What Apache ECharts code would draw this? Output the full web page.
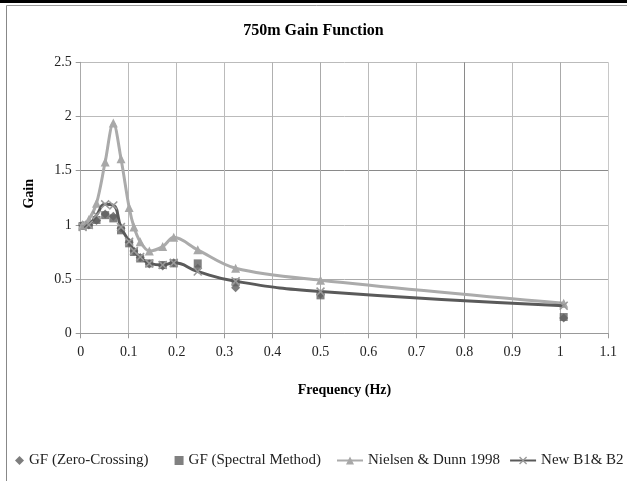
<!DOCTYPE html>
<html>
<head>
<meta charset="utf-8">
<script src="https://cdn.jsdelivr.net/npm/echarts@6/dist/echarts.min.js"></script>
<style>
html,body{margin:0;padding:0;background:#fff;}
#c{width:627px;height:481px;}
</style>
</head>
<body>
<div id="c"></div>
<script>
const freq = [0.004, 0.017, 0.033, 0.051, 0.068, 0.084, 0.101, 0.111, 0.124, 0.143, 0.171, 0.194, 0.244, 0.323, 0.5, 1.007];
const gfZeroCrossing = [1.0, 1.0, 1.04, 1.1, 1.08, 0.97, 0.84, 0.76, 0.70, 0.64, 0.62, 0.65, 0.60, 0.42, 0.36, 0.14];
const gfSpectral = [0.99, 1.0, 1.045, 1.09, 1.06, 0.95, 0.83, 0.75, 0.69, 0.645, 0.63, 0.645, 0.645, 0.47, 0.35, 0.15];
const nielsenDunn = [1.0, 1.05, 1.2, 1.58, 1.94, 1.61, 1.16, 0.98, 0.845, 0.76, 0.80, 0.885, 0.77, 0.60, 0.49, 0.277];
const newB1B2 = [0.98, 1.0, 1.09, 1.19, 1.18, 0.98, 0.845, 0.76, 0.705, 0.645, 0.63, 0.65, 0.57, 0.48, 0.385, 0.255];
const seriesNames = ['GF (Zero-Crossing)', 'GF (Spectral Method)', 'Nielsen & Dunn 1998', 'New B1& B2'];
const titleText = '750m Gain Function';
const xTitle = 'Frequency (Hz)';
const yTitle = 'Gain';

const pairs = arr => freq.map((f, i) => [f, arr[i]]);
const serif = 'Liberation Serif';
const xMark = 'path://M0,1.2 L1.2,0 L5,3.8 L8.8,0 L10,1.2 L6.2,5 L10,8.8 L8.8,10 L5,6.2 L1.2,10 L0,8.8 L3.8,5 Z';
const legendText = {fontFamily: serif, fontSize: 15, color: '#222'};

const chart = echarts.init(document.getElementById('c'), null, {renderer: 'canvas'});
chart.setOption({
  animation: false,
  backgroundColor: '#fff',
  title: {
    text: titleText, left: 'center', top: 18,
    textStyle: {fontFamily: serif, fontWeight: 'bold', fontSize: 16, color: '#000'}
  },
  grid: {left: 80.7, right: 18.7, top: 62.3, bottom: 147.7, containLabel: false},
  xAxis: {
    type: 'value', min: 0, max: 1.1, interval: 0.1,
    name: xTitle, nameLocation: 'middle', nameGap: 50,
    nameTextStyle: {fontFamily: serif, fontWeight: 'bold', fontSize: 14, color: '#000'},
    axisLine: {show: true, lineStyle: {color: '#999', width: 1}},
    axisTick: {show: true, inside: false, length: 5, lineStyle: {color: '#999'}},
    axisLabel: {fontFamily: serif, fontSize: 14, color: '#222', margin: 12,
      formatter: v => String(Math.round(v * 10) / 10)},
    splitLine: {show: true, lineStyle: {color: ['#bbb','#bbb','#bbb','#bbb','#b0b0b0','#aaa','#bbb','#bbb','#8a8a8a','#bbb','#aaa','#c8c8c8'], width: 1}}
  },
  yAxis: {
    type: 'value', min: 0, max: 2.5, interval: 0.5,
    name: yTitle, nameLocation: 'middle', nameGap: 44, nameRotate: 90,
    nameTextStyle: {fontFamily: serif, fontWeight: 'bold', fontSize: 14, color: '#000', padding: [0, 0, 0, 8]},
    axisLine: {show: true, lineStyle: {color: '#aaa', width: 1}},
    axisTick: {show: true, inside: false, length: 5, lineStyle: {color: '#999'}},
    axisLabel: {fontFamily: serif, fontSize: 14, color: '#222', margin: 9,
      formatter: v => String(Math.round(v * 10) / 10)},
    splitLine: {show: true, lineStyle: {color: ['#999','#aaa','#bbb','#8a8a8a','#bbb','#bbb'], width: 1}}
  },
  legend: [
    {
      bottom: 8, left: 10, itemGap: 26, itemWidth: 9, itemHeight: 9,
      textStyle: legendText,
      data: [seriesNames[0], seriesNames[1]]
    },
    {
      bottom: 8, left: 336, width: 300, padding: [5, 0, 5, 0], itemGap: 9, itemWidth: 26, itemHeight: 10,
      textStyle: legendText,
      data: [seriesNames[2], seriesNames[3]]
    }
  ],
  graphic: [
    {type: 'rect', shape: {x: 0, y: 0, width: 627, height: 3}, style: {fill: '#000'}, z: 100},
    {type: 'line', shape: {x1: 6.5, y1: 5.5, x2: 627, y2: 5.5}, style: {stroke: '#999', lineWidth: 1}, z: 100},
    {type: 'line', shape: {x1: 6.5, y1: 5.5, x2: 6.5, y2: 481}, style: {stroke: '#888', lineWidth: 1}, z: 100}
  ],
  series: [
    {name: seriesNames[0], type: 'scatter', data: pairs(gfZeroCrossing), symbol: 'diamond', symbolSize: 9,
      itemStyle: {color: '#5c5c5c'}, z: 2},
    {name: seriesNames[1], type: 'scatter', data: pairs(gfSpectral), symbol: 'rect', symbolSize: 8,
      itemStyle: {color: '#606060'}, z: 3},
    {name: seriesNames[2], type: 'line', data: pairs(nielsenDunn), smooth: 0.35, symbol: 'triangle', symbolSize: 9,
      showAllSymbol: true,
      lineStyle: {color: '#ababab', width: 3}, itemStyle: {color: '#a8a8a8'}, z: 4},
    {name: seriesNames[3], type: 'line', data: pairs(newB1B2), smooth: 0.5, symbol: xMark, symbolSize: 9,
      showAllSymbol: true,
      lineStyle: {color: '#5a5a5a', width: 3}, itemStyle: {color: '#9a9a9a'}, z: 5}
  ]
});
</script>
</body>
</html>
